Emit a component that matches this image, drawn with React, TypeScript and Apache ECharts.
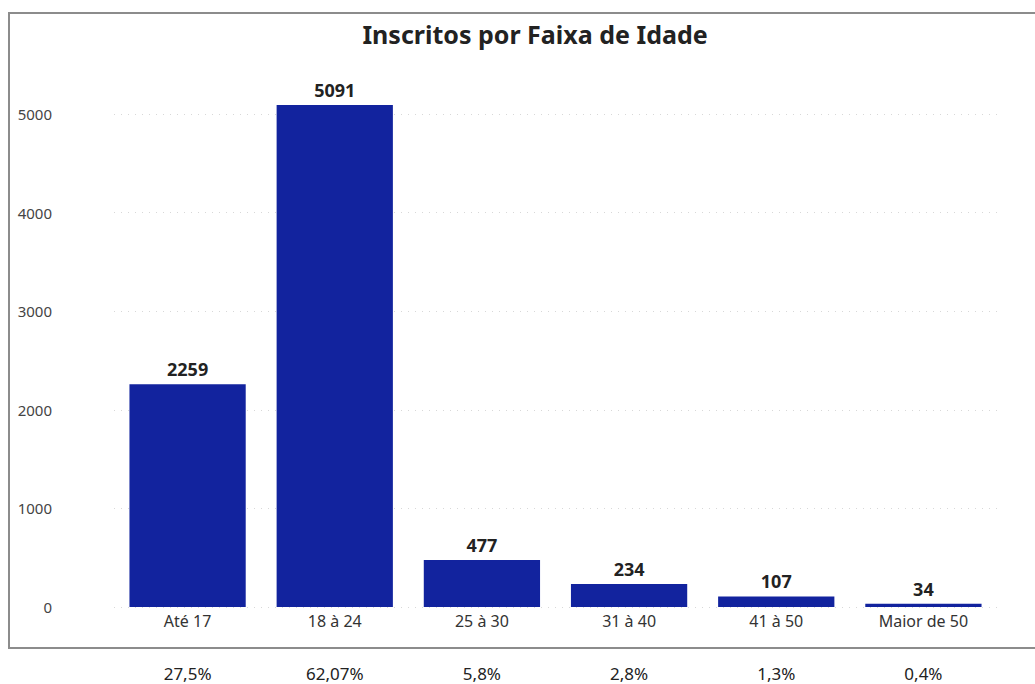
import React, { useEffect, useRef } from "react";
import * as echarts from "echarts";

const categories = ["Até 17", "18 à 24", "25 à 30", "31 à 40", "41 à 50", "Maior de 50"];
const values = [2259, 5091, 477, 234, 107, 34];
const percents = ["27,5%", "62,07%", "5,8%", "2,8%", "1,3%", "0,4%"];
const yTicks = [0, 1000, 2000, 3000, 4000, 5000];
const title = "Inscritos por Faixa de Idade";

const FONT = "'Noto Sans', 'Open Sans', sans-serif";

export default function App() {
  const ref = useRef<HTMLDivElement>(null);
  useEffect(() => {
    if (!ref.current) return;
    const chart = echarts.init(ref.current, undefined, { renderer: "svg" });
    chart.setOption({
      animation: false,
      backgroundColor: "#ffffff",
      title: {
        text: title,
        left: 530,
        textAlign: "center",
        top: 16,
        textStyle: { fontFamily: FONT, fontSize: 25, fontWeight: "bold", color: "#222" },
      },
      graphic: [
        {
          type: "rect",
          shape: { x: 9, y: 13, width: 1040, height: 635 },
          style: { fill: "none", stroke: "#8c8c8c", lineWidth: 2 },
          silent: true,
        },
      ],
      grid: { left: 114, right: 38, top: 114, bottom: 77, containLabel: false },
      xAxis: [
        {
          type: "category",
          data: categories,
          position: "bottom",
          axisLine: { show: false },
          axisTick: { show: false },
          axisLabel: { fontFamily: FONT, fontSize: 16, color: "#333", margin: 6 },
        },
        {
          type: "category",
          data: percents,
          position: "bottom",
          offset: 52,
          axisLine: { show: false },
          axisTick: { show: false },
          axisLabel: { fontFamily: FONT, fontSize: 17, color: "#222", margin: 6 },
        },
      ],
      yAxis: {
        type: "value",
        min: yTicks[0],
        max: yTicks[yTicks.length - 1],
        interval: 1000,
        axisLine: { show: false },
        axisTick: { show: false },
        axisLabel: {
          fontFamily: FONT,
          fontSize: 15,
          color: "#444",
          margin: 62,
          formatter: (v: number) => String(v),
        },
        splitLine: { show: true, lineStyle: { color: "#d8d8d8", type: [1, 6], width: 1 } },
      },
      series: [
        {
          type: "bar",
          xAxisIndex: 0,
          data: values,
          clip: false,
          barCategoryGap: "21%",
          itemStyle: { color: "#12239E" },
          label: {
            show: true,
            position: "top",
            distance: 6,
            fontFamily: FONT,
            fontSize: 18,
            fontWeight: "bold",
            color: "#222",
          },
        },
      ],
    });
    return () => chart.dispose();
  }, []);
  return (
    <div
      ref={ref}
      style={{ position: "fixed", left: 0, top: 0, width: 1035, height: 684 }}
    />
  );
}
